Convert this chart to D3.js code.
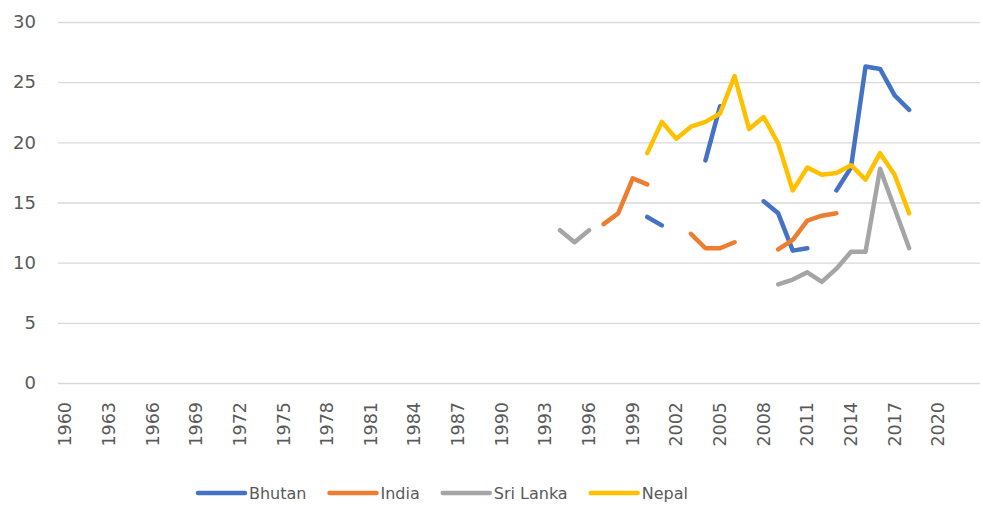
<!DOCTYPE html>
<html>
<head>
<meta charset="utf-8">
<script src="https://cdn.jsdelivr.net/npm/d3@7"></script>
<style>
  body { margin: 0; background: #fff; }
  svg { display: block; }
  .tick text { fill: #595959; }
</style>
</head>
<body>
<svg id="chart" width="983" height="505"></svg>
<script>
let width = 983;
let height = 505;

// category axis: one slot per year, 1960 to 2022
let years = d3.range(1960, 2023);
let xTickLabels = years.filter((d, i) => i % 3 == 0);
let yTicks = [0, 5, 10, 15, 20, 25, 30];

// years that carry data
let dataYears = [1994, 1995, 1996, 1997, 1998, 1999, 2000, 2001, 2002, 2003, 2004, 2005, 2006,
                 2007, 2008, 2009, 2010, 2011, 2012, 2013, 2014, 2015, 2016, 2017, 2018];

let bhutan = [null, null, null, null, null, null, 13.8, 13.1, null, null, 18.5, 23.0, null,
              null, 15.1, 14.1, 11.0, 11.2, null, 16.0, 17.9, 26.3, 26.1, 23.9, 22.7];
let india = [null, null, null, 13.2, 14.1, 17.0, 16.5, null, null, 12.4, 11.2, 11.2, 11.7,
             null, null, 11.1, 11.9, 13.5, 13.9, 14.1, null, null, null, null, null];
let sriLanka = [12.7, 11.7, 12.7, null, null, null, null, null, null, null, null, null, null,
                null, null, 8.2, 8.6, 9.2, 8.4, 9.5, 10.9, 10.9, 17.8, 14.5, 11.2];
let nepal = [null, null, null, null, null, null, 19.1, 21.7, 20.3, 21.3, 21.7, 22.4, 25.5,
             21.1, 22.1, 19.9, 16.0, 17.9, 17.3, 17.45, 18.1, 16.9, 19.1, 17.3, 14.1];

let seriesNames = ["Bhutan", "India", "Sri Lanka", "Nepal"];
let seriesColors = ["#4472c4", "#ed7d31", "#a5a5a5", "#ffc000"];

let series = [bhutan, india, sriLanka, nepal].map((vals, i) => ({
  name: seriesNames[i],
  color: seriesColors[i],
  values: dataYears.map((yr, j) => ({ year: yr, value: vals[j] }))
}));

let svg = d3.select("#chart");
let margin = { top: 22, right: 3, bottom: 122, left: 58 };
let band = 14.55;

let x = d3.scaleBand()
    .domain(years)
    .range([margin.left, margin.left + band * years.length])
    .padding(0);

let y = d3.scaleLinear()
    .domain([0, 30])
    .range([height - margin.bottom, margin.top]);

// gridlines + y labels
let yAxis = svg.append("g")
    .attr("class", "y axis")
    .attr("transform", `translate(${margin.left},0)`)
    .call(d3.axisLeft(y)
        .tickValues(yTicks)
        .tickSize(-(width - margin.right - margin.left))
        .tickPadding(22))
    .call(g => g.select(".domain").remove())
    .call(g => g.selectAll(".tick line").attr("stroke", "#d9d9d9").attr("stroke-width", 1.3))
    .call(g => g.selectAll(".tick text")
        .style("font-family", "DejaVu Sans")
        .style("font-size", "18px"));

// x labels, rotated
let xAxis = svg.append("g")
    .attr("class", "x axis")
    .attr("transform", `translate(0,${height - margin.bottom})`)
    .call(d3.axisBottom(x)
        .tickValues(xTickLabels)
        .tickSize(0))
    .call(g => g.select(".domain").remove())
    .call(g => g.selectAll(".tick text")
        .attr("transform", "rotate(-90)")
        .attr("text-anchor", "end")
        .attr("dominant-baseline", "central")
        .attr("x", -19)
        .attr("y", 0)
        .attr("dy", null)
        .style("font-family", "DejaVu Sans")
        .style("font-size", "17.5px"));

let line = d3.line()
    .defined(d => d.value != null)
    .x(d => x(d.year) + x.bandwidth() / 2)
    .y(d => y(d.value));

svg.append("g")
    .selectAll("path")
    .data(series)
    .join("path")
    .attr("fill", "none")
    .attr("stroke", d => d.color)
    .attr("stroke-width", 4.5)
    .attr("stroke-linejoin", "round")
    .attr("stroke-linecap", "round")
    .attr("d", d => line(d.values));

// legend
let legend = svg.append("g").attr("transform", "translate(198,493)");
let lx = 0;
series.forEach(s => {
  legend.append("line")
    .attr("x1", lx).attr("x2", lx + 47)
    .attr("y1", 0).attr("y2", 0)
    .attr("stroke", s.color)
    .attr("stroke-width", 4.5)
    .attr("stroke-linecap", "round");
  let t = legend.append("text")
    .attr("x", lx + 51)
    .attr("y", 0)
    .attr("dominant-baseline", "central")
    .style("font-family", "DejaVu Sans")
    .style("font-size", "16px")
    .style("fill", "#595959")
    .text(s.name);
  lx += 51 + t.node().getComputedTextLength() + 23;
});
</script>
</body>
</html>
